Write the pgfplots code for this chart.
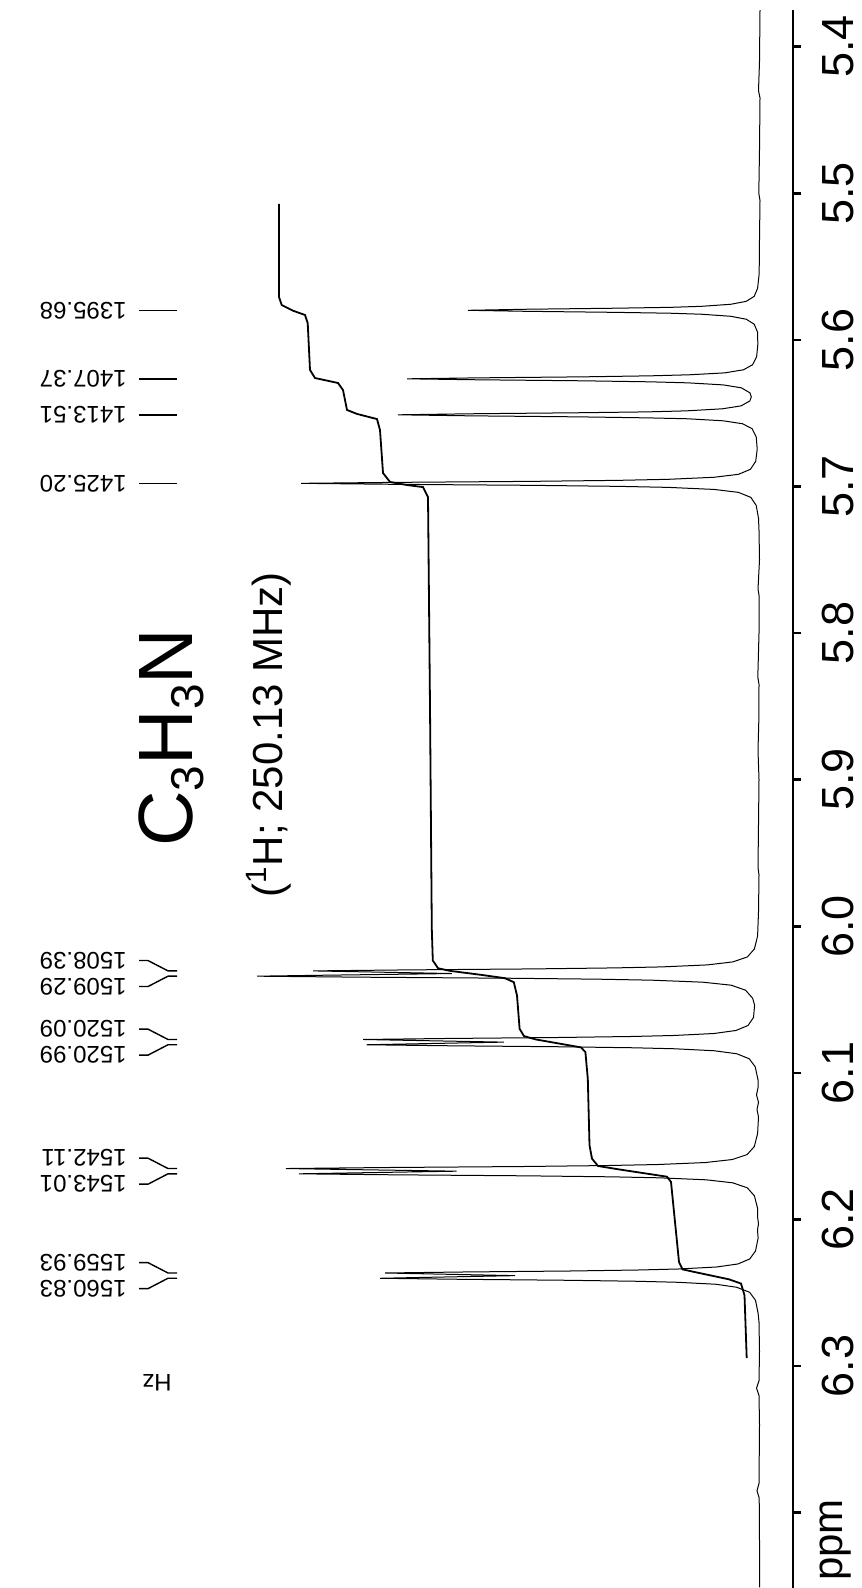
\documentclass[border=0pt]{standalone}
\usepackage{pgfplots}
\pgfplotsset{compat=1.18}
\usepackage{fontspec}
\setmainfont{Liberation Sans}

% peak label: upside-down Hz value with a short leader to its line
\newcommand{\peaklabel}[2]{%
  \node[rotate=180, anchor=west, inner sep=0pt, font=\fontsize{12}{14}\selectfont]
    at (axis cs:-633,#1) {#2};
  \draw[line width=0.7pt] (axis cs:-621,#1) -- (axis cs:-583,#1);
}
% pair of labels whose leaders fan in to two close lines
\newcommand{\pairlabel}[6]{%
  \node[rotate=180, anchor=west, inner sep=0pt, font=\fontsize{12}{14}\selectfont]
    at (axis cs:-633,#1) {#3};
  \node[rotate=180, anchor=west, inner sep=0pt, font=\fontsize{12}{14}\selectfont]
    at (axis cs:-633,#4) {#6};
  \draw[line width=0.7pt] (axis cs:-621,#1) -- (axis cs:-612,#1) -- (axis cs:-592,#2) -- (axis cs:-583,#2);
  \draw[line width=0.7pt] (axis cs:-621,#4) -- (axis cs:-612,#4) -- (axis cs:-592,#5) -- (axis cs:-583,#5);
}

\begin{document}
\begin{tikzpicture}
\useasboundingbox (0,0) rectangle (430.5pt,794pt);
\begin{axis}[
  at={(0,0)}, anchor=south west,
  scale only axis, width=396.5pt, height=789pt,
  xmin=-760, xmax=33, ymin=5.37497, ymax=6.45136,
  y dir=reverse,
  x filter/.expression={-x},
  axis x line=none,
  axis y line*=right,
  axis line style={-, line width=1.35pt},
  ytick={5.4,5.5,5.6,5.7,5.8,5.9,6.0,6.1,6.2,6.3,6.4},
  yticklabels={5.4,5.5,5.6,5.7,5.8,5.9,6.0,6.1,6.2,6.3,{}},
  tick align=outside,
  major tick length=4pt,
  every tick/.style={black, line width=1.35pt},
  yticklabel style={rotate=90, anchor=north, inner sep=0pt,
    font=\fontsize{22.5}{27}\selectfont},
  yticklabel shift=10.5pt,
  clip=false,
]

% 1H spectrum (intensity above baseline, chemical shift in ppm)
\addplot[black, line width=0.5pt] coordinates {
(0,5.375)(0.5,5.41)(1.5,5.43)(0,5.435)(0.5,5.47)(1.2,5.50)(0,5.505)(0.5,5.53)(0.6,5.545)
(1.0,5.5559)(2.4,5.5648)(5.8,5.5703)(13.8,5.5737)(29.2,5.5757)(58.4,5.5771)(90,5.5778)(146,5.5784)(234,5.5791)(292,5.57982)(234,5.5805)(146,5.5812)(90,5.5818)(58.4,5.5825)(29.2,5.5839)(13.8,5.5859)(5.8,5.5893)(2.4,5.5948)
(2.2,5.6032)
(3.4,5.6116)(7.5,5.6170)(16.6,5.6204)(35.3,5.6225)(70.6,5.6238)(108.7,5.6245)(176.5,5.6252)(282.4,5.6259)(353,5.62655)(283.6,5.6272)(177.7,5.6279)(110,5.6286)(71.9,5.6293)(36.8,5.6307)(18.6,5.6327)(10.1,5.6361)(8.7,5.6388)
(10.1,5.6416)(18.9,5.6450)(37.6,5.6470)(73.5,5.6484)(112.4,5.6491)(181.7,5.6497)(289.9,5.6504)(362,5.65110)(289.2,5.6518)(180.9,5.6525)(111.6,5.6532)(72.6,5.6538)(36.6,5.6552)(17.5,5.6572)(7.9,5.6606)(3.8,5.6661)
(2.8,5.6745)
(4.3,5.6828)(9.6,5.6883)(21.6,5.6917)(45.9,5.6937)(91.8,5.6951)(141.4,5.6958)(229.5,5.6965)(367.2,5.6972)(459,5.69784)(367.2,5.6985)(229.5,5.6992)(141.4,5.6999)(91.8,5.7006)(45.9,5.7020)(21.6,5.7040)(9.2,5.7074)(3.8,5.7129)(1.5,5.7217)
(1.0,5.73)(0.5,5.75)(2.0,5.77)(0.8,5.775)(1.0,5.80)(2.2,5.83)(1.0,5.835)(1.2,5.86)(2.0,5.88)(1.0,5.90)(1.5,5.93)(2.0,5.96)(1.0,5.965)(1.5,5.99)
(2.4,6.00655)(5.6,6.01541)(12.6,6.02087)(27.1,6.02428)(52.8,6.02633)(98.2,6.02769)(145.1,6.02837)(226.9,6.02906)(353.9,6.02974)(446.9,6.03042)(393.3,6.03110)(308.1,6.03222)(433,6.03334)(502.9,6.03402)(399.2,6.03470)(254.4,6.03539)(161.3,6.03607)(108.1,6.03675)(57.3,6.03811)(28.9,6.04016)(14.5,6.04357)(7.4,6.04903)(5.4,6.0538)(6.5,6.06219)(12.0,6.06765)
(24.1,6.07106)(45.9,6.07311)(86.1,6.07447)(127.9,6.07515)(201,6.07584)(314.6,6.07652)(396.8,6.07720)(344.9,6.07788)(256.2,6.07900)(342.4,6.08012)(393.3,6.08080)(311.7,6.08148)(199.3,6.08217)(127,6.08285)(85.5,6.08353)(45.7,6.08489)(23.2,6.08694)(10.8,6.09035)(4.8,6.09581)(2.0,6.10467)
(2.0,6.11)(3.5,6.115)(1.5,6.12)(3.0,6.125)(1.5,6.13)
(2.4,6.14136)(5.7,6.15022)(12.8,6.15568)(27.8,6.15909)(54.7,6.16114)(102.7,6.16250)(152.8,6.16318)(240.1,6.16387)(376,6.16455)(474.2,6.16523)(411.4,6.16591)(303.3,6.16703)(402.1,6.16815)(461,6.16883)(365.4,6.16951)(233.7,6.17020)(149,6.17088)(100.4,6.17156)(53.7,6.17292)(27.3,6.17497)(12.7,6.17838)(5.6,6.18384)(2.3,6.19270)
(2.5,6.198)(1.5,6.203)(2.5,6.207)
(1.9,6.21261)(4.5,6.22147)(10.3,6.22693)(22.2,6.23034)(43.6,6.23239)(81.5,6.23375)(121,6.23443)(190,6.23512)(297.2,6.23580)(374.9,6.23648)(326.6,6.23716)(244.8,6.23828)(330.1,6.23940)(380,6.24008)(301.3,6.24076)(192.5,6.24145)(122.5,6.24213)(82.5,6.24281)(43.9,6.24417)(23.3,6.24622)(10.4,6.24963)(4.5,6.25509)(1.9,6.26395)
(1.0,6.27)(0.5,6.29)(1.0,6.31)(3.5,6.315)(1.0,6.32)(0.5,6.34)(1.0,6.38)(3.0,6.385)(0.8,6.39)(0.5,6.42)(0.5,6.451)
};

% integral trace
\addplot[black, line width=0.9pt] coordinates {
(481,5.5073)(481,5.5707)(478.3,5.5762)(467,5.5801)(455,5.5830)(452.3,5.5885)
(450,5.6205)(445,5.6260)(422,5.6294)(417,5.6342)(413,5.6478)(403,5.6505)(383,5.6540)(380,5.6615)
(377,5.6908)(370,5.6969)(353,5.6990)(337,5.7004)(332,5.7072)(330,5.85)
(328.2,6.0018)(327.2,6.0233)(322,6.0286)(310,6.0304)(279,6.0331)(255,6.0354)(246.2,6.0381)(243,6.0472)
(240.4,6.0699)(236,6.0749)(224,6.0772)(179,6.0826)(174.6,6.0858)(172.2,6.1040)
(170.5,6.1494)(168,6.1585)(162,6.1635)(141.2,6.1658)(93,6.1708)(89,6.1744)(86,6.1949)
(81,6.2290)(77.5,6.2340)(65.5,6.2358)(31,6.2408)(19,6.2437)(15.5,6.2517)(13.3,6.2945)
};

% line labels (Hz)
\peaklabel{5.57982}{1395.68}
\peaklabel{5.62655}{1407.37}
\peaklabel{5.65110}{1413.51}
\peaklabel{5.69784}{1425.20}
\pairlabel{6.02335}{6.03042}{1508.39}{6.04109}{6.03402}{1509.29}
\pairlabel{6.07013}{6.07720}{1520.09}{6.08787}{6.08080}{1520.99}
\pairlabel{6.15816}{6.16523}{1542.11}{6.17590}{6.16883}{1543.01}
\pairlabel{6.22941}{6.23648}{1559.93}{6.24715}{6.24008}{1560.83}

\node[rotate=180, anchor=center, inner sep=0pt, font=\fontsize{12}{14}\selectfont]
  at (axis cs:-603,6.3115) {Hz};

% compound and spectrometer frequency
\node[rotate=90, anchor=base west, inner sep=0pt, font=\fontsize{38.5}{40}\selectfont]
  at (axis cs:-568,5.94591)
  {C\raisebox{-5.5pt}{\fontsize{23}{23}\selectfont 3}H\raisebox{-5.5pt}{\fontsize{23}{23}\selectfont 3}N};
\node[rotate=90, anchor=base west, inner sep=0pt, font=\fontsize{21}{24}\selectfont]
  at (axis cs:-478,5.98070) {(\textsuperscript{1}H; 250.13 MHz)};

% unit of the shift axis
\node[rotate=90, anchor=base, inner sep=0pt, font=\fontsize{21}{24}\selectfont]
  at (axis cs:82,6.41862) {ppm};
\end{axis}
\end{tikzpicture}
\end{document}
